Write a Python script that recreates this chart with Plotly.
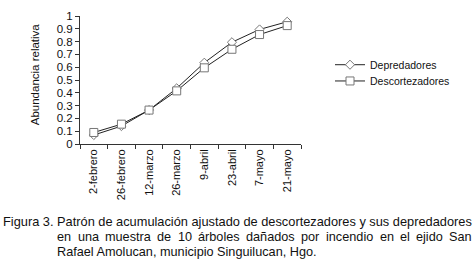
import plotly.graph_objects as go

fechas = ["2-febrero", "26-febrero", "12-marzo", "26-marzo", "9-abril", "23-abril", "7-mayo", "21-mayo"]
depredadores = [0.07, 0.14, 0.265, 0.435, 0.635, 0.795, 0.895, 0.955]
descortezadores = [0.09, 0.155, 0.265, 0.415, 0.595, 0.74, 0.855, 0.925]
y_ticks = [0, 0.1, 0.2, 0.3, 0.4, 0.5, 0.6, 0.7, 0.8, 0.9, 1]

caption_l1 = "Figura 3. Patrón de acumulación ajustado de descortezadores y sus depredadores"
caption_l2 = "en una muestra de 10 árboles dañados por incendio en el ejido San"
caption_l3 = "Rafael Amolucan, municipio Singuilucan, Hgo."

W, H = 475, 268
L, R, T, B = 80, 174, 10, 124
PW, PH = W - L - R, H - T - B
FONT = "Arial, Liberation Sans, sans-serif"
TXT = "#111111"


def px(x):
    return (x - L) / PW


def py(y):
    return (H - B - y) / PH


fig = go.Figure()
fig.add_trace(go.Scatter(
    x=fechas, y=depredadores, name="Depredadores", mode="lines+markers",
    line=dict(color="#222222", width=1),
    marker=dict(symbol="diamond", size=7, color="white", line=dict(color="#777777", width=1)),
    legend="legend",
))
fig.add_trace(go.Scatter(
    x=fechas, y=descortezadores, name="Descortezadores", mode="lines+markers",
    line=dict(color="#222222", width=1),
    marker=dict(symbol="square", size=8, color="white", line=dict(color="#777777", width=1)),
    legend="legend2",
))

annotations = [
    dict(text="Abundancia relativa", x=px(35), y=py(71), xref="paper", yref="paper",
         textangle=-90, showarrow=False, font=dict(family=FONT, size=11.5, color=TXT),
         xanchor="center", yanchor="middle"),
    dict(text=caption_l1, x=px(3.3), y=py(225.5), xref="paper", yref="paper",
         showarrow=False, font=dict(family=FONT, size=12.8, color=TXT),
         xanchor="left", yanchor="middle", borderpad=0, borderwidth=0),
    dict(text=caption_l3, x=px(57.3), y=py(257), xref="paper", yref="paper",
         showarrow=False, font=dict(family=FONT, size=12.7, color=TXT),
         xanchor="left", yanchor="middle", borderpad=0, borderwidth=0),
]
# justified second caption line: place words at measured positions
word_x = [57.3, 77.7, 105.2, 157.4, 177.8, 198.2, 246.2, 301.2, 325.9, 379.5, 399.9, 416.1, 449.3]
for wtxt, wx in zip(caption_l2.split(" "), word_x):
    annotations.append(dict(text=wtxt, x=px(wx), y=py(241.5), xref="paper", yref="paper",
                            showarrow=False, font=dict(family=FONT, size=12.7, color=TXT),
                            xanchor="left", yanchor="middle", borderpad=0, borderwidth=0))

fig.update_layout(
    width=W, height=H,
    margin=dict(l=L, r=R, t=T, b=B),
    paper_bgcolor="white", plot_bgcolor="white",
    font=dict(family=FONT, size=11, color=TXT),
    showlegend=True,
    legend=dict(x=px(330), y=py(61), xanchor="left", yanchor="middle",
                font=dict(family=FONT, size=10.5, color=TXT), itemwidth=30,
                bgcolor="rgba(0,0,0,0)"),
    legend2=dict(x=px(330), y=py(78), xanchor="left", yanchor="middle",
                 font=dict(family=FONT, size=10.5, color=TXT), itemwidth=30,
                 bgcolor="rgba(0,0,0,0)"),
    annotations=annotations,
)
fig.update_xaxes(
    type="category", range=[-0.5, 7.5], tickson="boundaries", ticks="outside", ticklen=4,
    tickcolor="#333333", showline=True, linecolor="#333333", linewidth=1, showgrid=False,
    tickangle=-90, tickfont=dict(family=FONT, size=11, color=TXT), zeroline=False,
)
fig.update_yaxes(
    range=[0, 1], tickvals=y_ticks, ticks="outside", ticklen=4, tickcolor="#333333",
    showline=True, linecolor="#333333", linewidth=1, showgrid=False, zeroline=False,
    tickfont=dict(family=FONT, size=11.5, color=TXT),
)

fig.write_html("out.html", config={"displayModeBar": False},
               post_script="document.body.style.margin='0';")
